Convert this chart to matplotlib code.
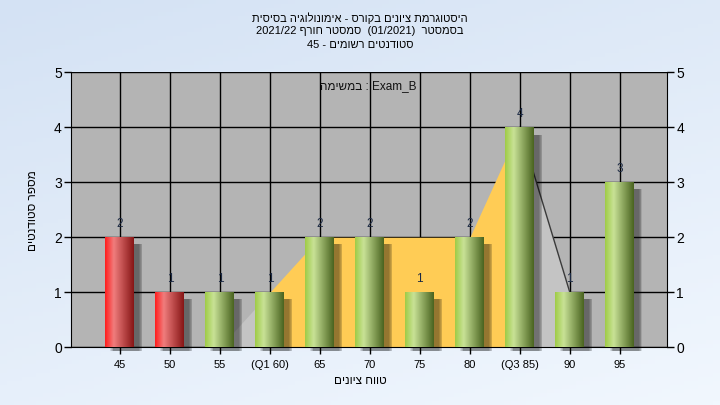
import numpy as np
import matplotlib
matplotlib.use("Agg")
from matplotlib import pyplot as plt

plt.rcParams['font.family'] = ['Liberation Sans', 'DejaVu Sans']

# data
grades = ['45', '50', '55', '(Q1 60)', '65', '70', '75', '80', '(Q3 85)', '90', '95']
counts = [2, 1, 1, 1, 2, 2, 1, 2, 4, 1, 3]
failing = [True, True, False, False, False, False, False, False, False, False, False]
# background area series
iqr_idx = [3, 4, 5, 6, 7, 8]
iqr_vals = [1, 2, 2, 2, 2, 4]
low_idx = [2, 3]
low_vals = [0, 1]
high_idx = [8, 9]
high_vals = [4, 1]

title_lines = [
    "היסטוגרמת ציונים בקורס - אימונולוגיה בסיסית"[::-1],
    "2021/22 " + "סמסטר חורף"[::-1] + "  (01/2021)  " + "בסמסטר"[::-1],
    "45 - " + "סטודנטים רשומים"[::-1],
]
task_label = "במשימה"[::-1] + " : Exam_B"
xlabel = "טווח ציונים"[::-1]
ylabel = "מספר סטודנטים"[::-1]

fig = plt.figure(figsize=(7.2, 4.05), dpi=100)

# light blue background gradient
bg = fig.add_axes([0, 0, 1, 1], zorder=-10)
gy, gx = np.mgrid[0:1:100j, 0:1:100j]
t = np.clip(0.65 * gy + 0.35 * gx, 0, 1)
top = np.array([212, 226, 244]) / 255
bot = np.array([241, 247, 254]) / 255
img = top[None, None, :] * (1 - t[..., None]) + bot[None, None, :] * t[..., None]
bg.imshow(img, aspect='auto', extent=[0, 1, 0, 1], origin='upper')
bg.axis('off')

ax = fig.add_axes([0.0993, 0.143, 0.8267, 0.678])
ax.set_facecolor('#b4b4b4')
x = np.arange(len(grades))

ax.fill_between(low_idx, low_vals, color='#c4c4c4', zorder=1, lw=0)
ax.fill_between(high_idx, high_vals, color='#c4c4c4', zorder=1, lw=0)
ax.plot(high_idx, high_vals, color='#3a3a3a', lw=1, zorder=1.5)
ax.fill_between(iqr_idx, iqr_vals, color='#ffcc55', zorder=1, lw=0)

w = 0.58
stops = [0.0, 0.3, 1.0]
green = np.array([[160, 204, 72], [200, 226, 150], [74, 100, 32]]) / 255
red = np.array([[255, 30, 30], [240, 125, 125], [135, 22, 22]]) / 255
s = np.linspace(0, 1, 64)


def grad(c):
    return np.stack([np.interp(s, stops, c[:, k]) for k in range(3)], axis=-1)[None, :, :]


for xi, h, f in zip(x, counts, failing):
    # soft shadow
    for k in range(5):
        d = 0.03 * k
        ax.add_patch(plt.Rectangle((xi - w / 2 + 0.1 + d / 2, -0.08), w, h - 0.05,
                                   color='black', alpha=0.1, lw=0, zorder=2, clip_on=False))
    ax.imshow(grad(red if f else green), aspect='auto', extent=[xi - w / 2, xi + w / 2, 0, h],
              zorder=3, interpolation='bilinear')
    ax.text(xi, h + 0.13, str(h), ha='center', va='bottom', fontsize=8.5, color='#1c2a44', zorder=4)

ax.set_xlim(-0.97, 10.94)
ax.set_ylim(0, 5)
ax.set_xticks(x)
ax.set_xticklabels(grades, fontsize=8)
ax.set_yticks(range(6))
ax.tick_params(axis='y', labelsize=10, length=5, width=1, right=True, labelright=True, pad=2)
ax.tick_params(axis='x', length=5, width=1, pad=4)
ax.grid(True, color='black', lw=1, zorder=0)
ax.set_axisbelow(True)
for sp in ax.spines.values():
    sp.set_color('black')
ax.spines['top'].set_visible(False)

ax.text(0.498, 0.95, task_label, transform=ax.transAxes, ha='center', va='center',
        fontsize=8.5, color='#111111', zorder=5)

for i, line in enumerate(title_lines):
    fig.text(0.5, 0.956 - i * 0.033, line, ha='center', va='center', fontsize=8)
fig.text(0.5, 0.06, xlabel, ha='center', va='center', fontsize=8.5)
fig.text(0.046, 0.48, ylabel, ha='center', va='center', rotation=90, fontsize=8.5)

plt.savefig("out.png", dpi=100)
